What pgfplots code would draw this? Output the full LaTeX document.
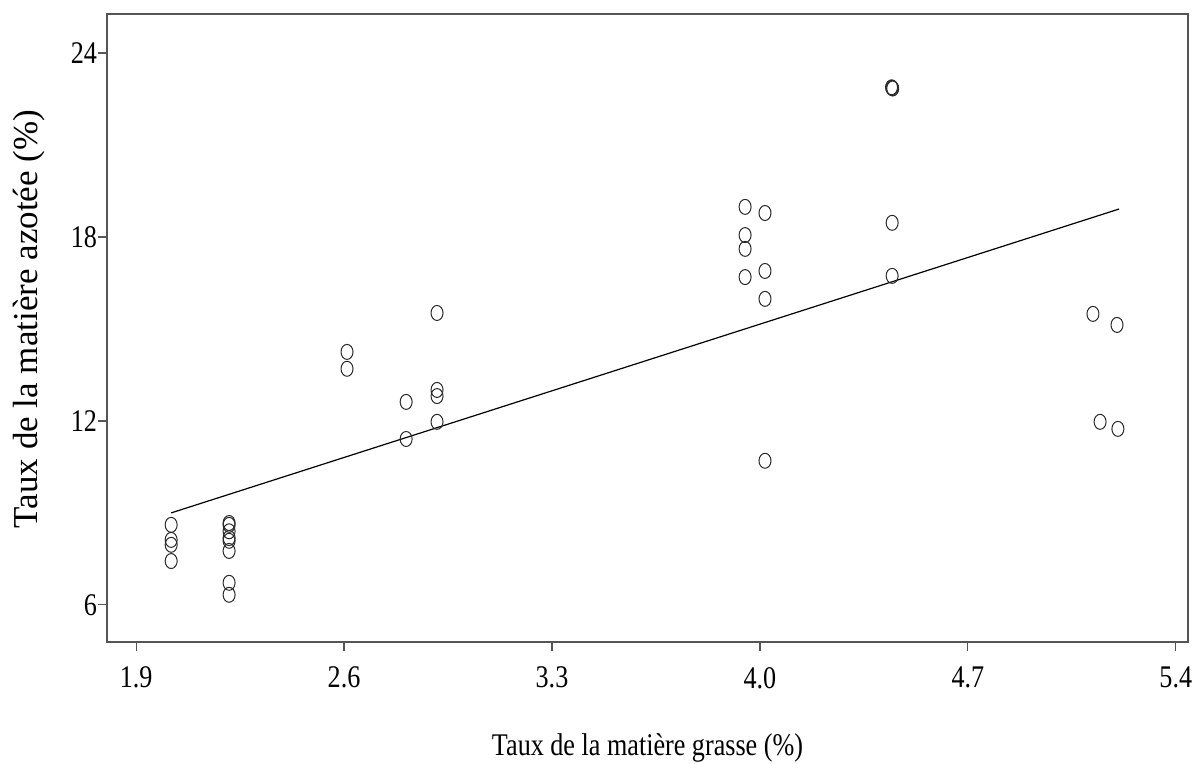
\documentclass[border=0pt]{standalone}
\usepackage{fontspec}
\setmainfont{Liberation Serif}
\newfontfamily\hfont[FakeStretch=0.83]{Liberation Serif}
\usepackage{pgfplots}
\pgfplotsset{compat=1.18}
\definecolor{axgray}{RGB}{85,85,85}
\definecolor{mk}{RGB}{40,40,40}
\begin{document}
\begin{tikzpicture}
\begin{axis}[
  name=ax,
  scale only axis,
  width=540.5pt, height=314pt,
  xmin=1.802, xmax=5.441,
  ymin=4.79, ymax=25.27,
  xtick={1.9,2.6,3.3,4.0,4.7,5.4},
  ytick={6,12,18,24},
  xticklabel style={yshift=-4.5pt, /pgf/number format/fixed, /pgf/number format/fixed zerofill, /pgf/number format/precision=1, /pgf/number format/assume math mode=true},
  yticklabel style={xshift=3pt, /pgf/number format/fixed, /pgf/number format/precision=0, /pgf/number format/assume math mode=true},
  tick label style={font=\fontsize{15.75}{18}\hfont},
  tick align=outside,
  xtick pos=bottom, ytick pos=left,
  major tick length=4.5pt,
  tick style={axgray, line width=0.6pt},
  axis line style={axgray, line width=0.7pt},
  xlabel={Taux de la matière grasse (\%)},
  ylabel={Taux de la matière azotée (\%)},
  xlabel style={font=\fontsize{15.75}{18}\hfont, yshift=-15.5pt},
  ylabel style={font=\fontsize{17.5}{20}\selectfont, yshift=6pt, xshift=4.5pt},
  clip=false,
]
\addplot[only marks, mark=o, mark size=3.75pt, mark options={xscale=0.8, draw=mk, line width=0.5pt}] table {
x y
2.018 8.61
2.018 8.12
2.018 7.96
2.018 7.43
2.213 8.67
2.213 8.61
2.213 8.40
2.213 8.18
2.213 8.09
2.213 7.76
2.213 6.72
2.213 6.33
2.610 14.25
2.610 13.70
2.809 12.62
2.809 11.41
2.913 15.52
2.913 13.01
2.913 12.81
2.913 11.97
3.950 18.98
3.950 18.06
3.950 17.61
3.950 16.69
4.017 18.78
4.017 16.89
4.017 15.98
4.017 10.70
4.445 22.86
4.447 22.84
4.443 22.88
4.445 18.46
4.445 16.73
5.121 15.49
5.145 11.97
5.202 15.13
5.205 11.74
};
\addplot[black, line width=0.6pt] coordinates {(2.018,9.00) (5.209,18.91)};
\end{axis}
\pgfresetboundingbox
\path (ax.south west) ++(-53.5pt,-61pt) rectangle ++(596pt,382pt);
\end{tikzpicture}
\end{document}
